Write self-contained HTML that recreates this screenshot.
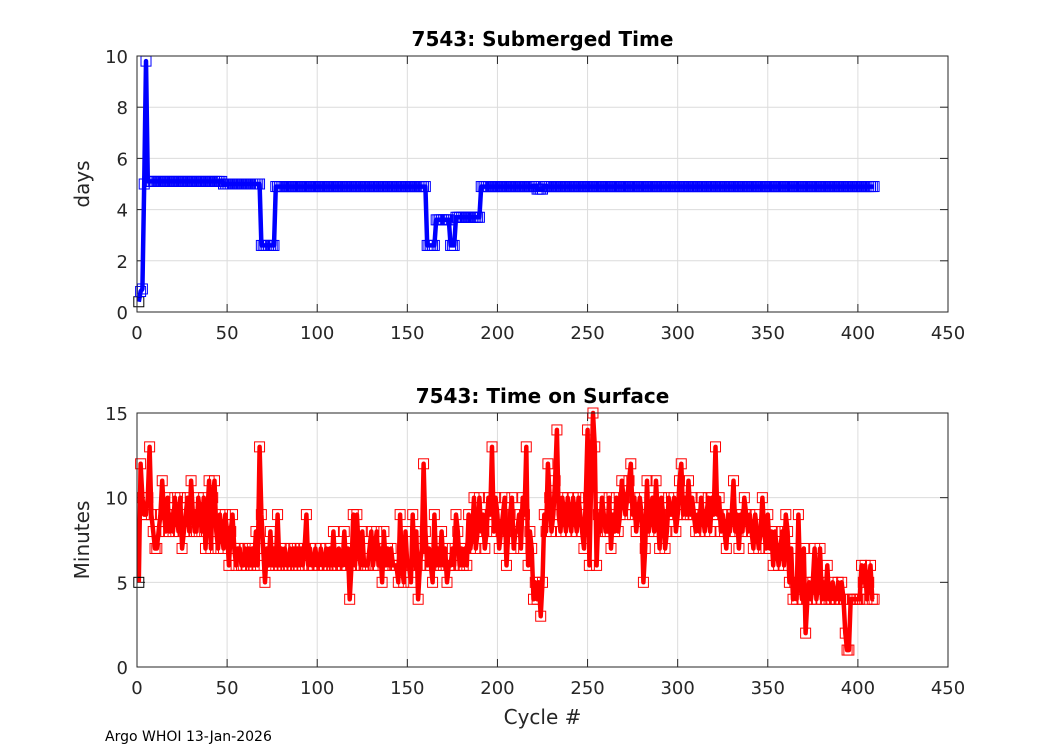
<!DOCTYPE html>
<html><head><meta charset="utf-8"><style>
body{margin:0;background:#fff;}
svg text{font-family:"DejaVu Sans","Liberation Sans",sans-serif;}
</style></head><body>
<svg id="fig" width="1050" height="750" viewBox="0 0 1050 750" xmlns="http://www.w3.org/2000/svg">
<rect width="1050" height="750" fill="#fff"/>
<g id="top"></g>
<g id="bot"></g>
<text x="105" y="741" font-size="14" fill="#000">Argo WHOI 13-Jan-2026</text>
</svg>
<script>
const xTicks=[0,50,100,150,200,250,300,350,400,450];
const topYTicks=[0,2,4,6,8,10];
const botYTicks=[0,5,10,15];
// submerged time: run segments (start cycle, end cycle, days)
const subStart=[1,2,3,4,5,6,48,69,77,161,166,174,177,191,222,226];
const subEnd  =[1,2,3,4,5,47,68,76,160,165,173,176,190,221,225,409];
const subVal  =[0.4,0.8,0.9,5.0,9.8,5.1,5.0,2.6,4.9,2.6,3.6,2.6,3.7,4.9,4.8,4.9];
const surfVal=[5,12,10,9,9,10,13,9,8,7,7,8,9,11,9,8,10,8,9,8,10,9,8,10,7,8,9,10,8,11,9,8,8,10,9,8,10,7,9,11,7,10,11,8,7,9,8,7,9,8,
6,8,9,7,6,7,7,6,6,7,6,7,6,7,6,8,6,13,9,7,5,7,6,8,6,7,6,9,6,7,6,7,6,6,7,6,7,6,7,6,7,6,7,9,6,7,6,6,7,6,
6,7,6,6,7,6,7,6,8,6,6,7,6,6,8,6,7,4,6,9,6,9,7,6,8,6,6,6,7,8,6,7,8,6,7,5,8,6,7,6,7,6,6,6,5,9,6,5,8,6,
6,5,9,6,8,4,6,7,12,8,6,7,6,5,9,6,7,6,8,6,7,5,6,6,7,6,9,8,6,7,6,7,6,9,7,8,10,7,8,10,8,9,7,8,10,9,13,8,10,9,
7,8,9,10,6,8,9,10,7,8,8,9,7,10,9,13,6,8,7,4,5,4,5,3,5,9,8,12,10,8,9,11,14,9,8,10,9,8,10,9,8,10,9,8,10,9,8,7,10,14,
6,11,15,13,6,9,8,10,9,8,8,10,7,9,8,10,8,9,11,10,9,10,11,12,9,10,8,9,10,9,5,7,11,8,9,10,8,11,9,7,10,9,7,8,10,9,9,10,8,9,
11,12,9,10,9,11,9,10,9,8,9,8,10,9,8,9,10,8,10,9,13,9,10,8,9,8,7,9,8,9,11,8,9,7,9,8,10,9,8,9,8,7,9,8,7,8,10,8,7,9,
7,8,6,8,7,6,7,8,6,9,8,5,7,4,5,4,9,5,4,7,2,4,5,4,5,7,4,5,7,4,5,4,6,4,4,5,4,4,5,4,5,4,2,1,1,4,4,4,4,4,4,6,5,6,4,5,6,4,4];

const NS='http://www.w3.org/2000/svg';
const X0=137,X1=948;
const xs=v=>X0+(v-0)/(450-0)*(X1-X0);
function mk(tag,attrs,parent){const e=document.createElementNS(NS,tag);for(const k in attrs)e.setAttribute(k,attrs[k]);parent.appendChild(e);return e;}

function axes(g,Y0,Y1,ymax,yTicks,title,ylabel,xlabel){
  const ys=v=>Y1-v/ymax*(Y1-Y0);
  mk('rect',{x:X0,y:Y0,width:X1-X0,height:Y1-Y0,fill:'#fff'},g);
  xTicks.forEach(t=>{
    const l=mk('line',{x1:xs(t),x2:xs(t),y1:Y0,y2:Y1,stroke:'#dcdcdc','stroke-width':1},g);
    
    
    const tl=mk('text',{x:xs(t),y:Y1+27,'font-size':18,'text-anchor':'middle',fill:'#262626'},g);
    tl.textContent=t;
    
    
    mk('line',{x1:xs(t),x2:xs(t),y1:Y1,y2:Y1-8,stroke:'#262626'},g);
    mk('line',{x1:xs(t),x2:xs(t),y1:Y0,y2:Y0+8,stroke:'#262626'},g);
  });
  yTicks.forEach(t=>{
    const l=mk('line',{x1:X0,x2:X1,y1:ys(t),y2:ys(t),stroke:'#dcdcdc','stroke-width':1},g);
    
    
    const tl=mk('text',{x:X0-9,y:ys(t)+7,'font-size':18,'text-anchor':'end',fill:'#262626'},g);
    tl.textContent=t;
    
    
    mk('line',{x1:X0,x2:X0+8,y1:ys(t),y2:ys(t),stroke:'#262626'},g);
    mk('line',{x1:X1,x2:X1-8,y1:ys(t),y2:ys(t),stroke:'#262626'},g);
  });
  const tt=mk('text',{x:(X0+X1)/2,y:Y0-10,'font-size':20,'font-weight':'bold','text-anchor':'middle',fill:'#000'},g);
  tt.textContent=title;
  
  
  const yl=mk('text',{x:0,y:0,'font-size':20,'text-anchor':'middle',fill:'#262626',transform:`translate(89,${(Y0+Y1)/2}) rotate(-90)`},g);
  yl.textContent=ylabel;
  
  
  if(xlabel){
    const xl=mk('text',{x:(X0+X1)/2,y:Y1+57,'font-size':20,'text-anchor':'middle',fill:'#262626'},g);
    xl.textContent=xlabel;
    
    
  }
  return ys;
}
function series(g,cyc,vals,ys,color){
  const pts=cyc.map((c,i)=>xs(c).toFixed(1)+','+ys(vals[i]).toFixed(1)).join(' ');
  const pl=mk('polyline',{points:pts,fill:'none',stroke:color,'stroke-width':4.5,'stroke-linejoin':'round'},g);
  
  
  cyc.forEach((c,i)=>{
    const r=mk('rect',{x:xs(c)-5,y:ys(vals[i])-5,width:10,height:10,fill:'none',stroke:i===0?'#000':color,'stroke-width':1},g);
    
    
  });
}
function frame(g,Y0,Y1){mk('rect',{x:X0,y:Y0,width:X1-X0,height:Y1-Y0,fill:'none',stroke:'#262626','stroke-width':1},g);}

const gt=document.getElementById('top');
const ysT=axes(gt,56,312,10,topYTicks,'7543: Submerged Time','days',null);
const subC=[],subV=[];
subStart.forEach((s,k)=>{for(let c=s;c<=subEnd[k];c++){subC.push(c);subV.push(subVal[k]);}});
series(gt,subC,subV,ysT,'#0000ff');
frame(gt,56,312);

const gb=document.getElementById('bot');
const ysB=axes(gb,413,667,15,botYTicks,'7543: Time on Surface','Minutes','Cycle #');
series(gb,surfVal.map((v,i)=>i+1),surfVal,ysB,'#ff0000');
frame(gb,413,667);
</script>
</body></html>
